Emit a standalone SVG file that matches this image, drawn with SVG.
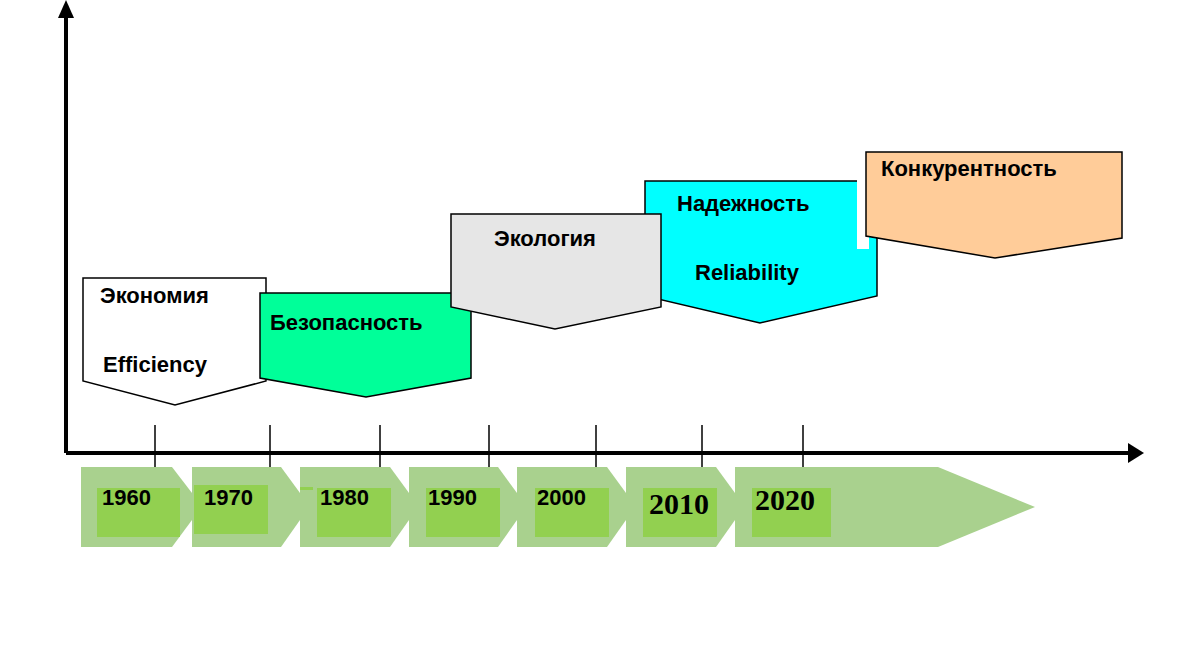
<svg xmlns="http://www.w3.org/2000/svg" width="1200" height="659" viewBox="0 0 1200 659">
<style>
.b{stroke:#000;stroke-width:1.5}
.t{font-family:"Liberation Sans",Arial,sans-serif;font-weight:bold;font-size:22px;fill:#000}
.y{font-family:"Liberation Sans",Arial,sans-serif;font-weight:bold;font-size:22px;fill:#000}
.ys{font-family:"Liberation Serif","Times New Roman",serif;font-weight:bold;font-size:30px;fill:#000}
.seg{fill:#a9d18e}
.in{fill:#92d050}
.tk{stroke:#000;stroke-width:1.5}
</style>
<rect width="1200" height="659" fill="#fff"/>
<g id="timeline">
<polygon class="seg" points="81,467 172,467 192,493 192,520 172,547 81,547"/>
<polygon class="seg" points="192,467 281,467 300,493 300,520 281,547 192,547 192,520 192,493"/>
<polygon class="seg" points="300,467 390,467 409,493 409,520 390,547 300,547"/>
<polygon class="seg" points="409,467 498,467 517,493 517,520 498,547 409,547"/>
<polygon class="seg" points="517,467 607,467 626,493 626,520 607,547 517,547"/>
<polygon class="seg" points="626,467 716,467 735,493 735,520 716,547 626,547"/>
<polygon class="seg" points="735,467 938,467 1035,507 938,547 735,547"/>
<rect class="in" x="97" y="488" width="83" height="49"/>
<rect class="in" x="194" y="485" width="74" height="49"/>
<rect class="in" x="300" y="487" width="13" height="3" fill="none"/>
<rect class="in" x="300" y="488" width="14" height="0"/>
<rect class="in" x="317" y="488" width="74" height="49"/>
<rect class="in" x="426" y="488" width="74" height="49"/>
<rect class="in" x="535" y="488" width="74" height="49"/>
<rect class="in" x="643" y="488" width="74" height="49"/>
<rect class="in" x="752" y="488" width="79" height="49"/>
<text class="y" x="102" y="505">1960</text>
<text class="y" x="204" y="505">1970</text>
<text class="y" x="320" y="505">1980</text>
<text class="y" x="428" y="505">1990</text>
<text class="y" x="537" y="505">2000</text>
<text class="ys" x="649" y="514">2010</text>
<text class="ys" x="755" y="510">2020</text>
</g>
<g id="axes">
<line x1="66" y1="453" x2="1132" y2="453" stroke="#000" stroke-width="4"/>
<polygon points="1128,443 1144,453 1128,463"/>
<line x1="66" y1="453" x2="66" y2="14" stroke="#000" stroke-width="4"/>
<polygon points="58,18 66,0 74,18"/>
<line class="tk" x1="155" y1="425" x2="155" y2="467"/>
<line class="tk" x1="270" y1="425" x2="270" y2="467"/>
<line class="tk" x1="380" y1="425" x2="380" y2="467"/>
<line class="tk" x1="489" y1="425" x2="489" y2="467"/>
<line class="tk" x1="596" y1="425" x2="596" y2="467"/>
<line class="tk" x1="702" y1="425" x2="702" y2="467"/>
<line class="tk" x1="803" y1="425" x2="803" y2="467"/>
</g>
<g id="economy">
<polygon class="b" fill="#fff" points="83,278 266,278 266,381 175,405 83,381"/>
<text class="t" x="100" y="303">Экономия</text>
<text class="t" x="103" y="372">Efficiency</text>
</g>
<g id="safety">
<polygon class="b" fill="#00ff99" points="260,293 471,293 471,378 366,397 260,378"/>
<text class="t" x="270" y="330">Безопасность</text>
</g>
<g id="reliability">
<polygon class="b" fill="#00ffff" points="645,181 877,181 877,296 760,323 645,296"/>
<text class="t" x="677" y="211">Надежность</text>
<text class="t" x="695" y="280">Reliability</text>
</g>
<g id="ecology">
<polygon class="b" fill="#e6e6e6" points="451,214 661,214 661,307 555,329 451,307"/>
<text class="t" x="494" y="246">Экология</text>
</g>
<g id="competition">
<rect x="857" y="150" width="12" height="99" fill="#fff"/>
<polygon class="b" fill="#ffcc99" points="866,152 1122,152 1122,238 995,258 866,236"/>
<text class="t" x="881" y="176">Конкурентность</text>
</g>
</svg>
